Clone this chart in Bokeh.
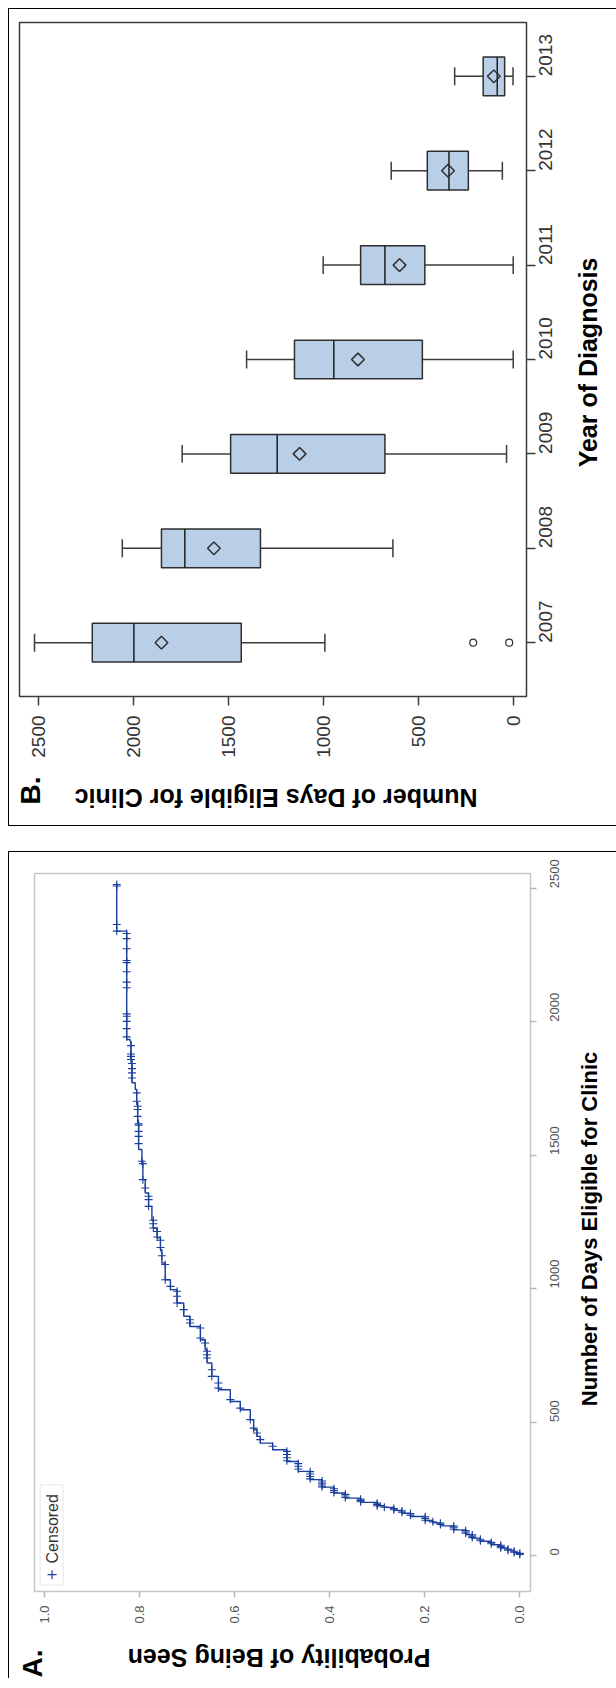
import math
import numpy as np
from bokeh.plotting import figure
from bokeh.layouts import column, row
from bokeh.models import Range1d, FixedTicker, NumeralTickFormatter, Label, BoxAnnotation
from bokeh.core.properties import value
from bokeh.embed import file_html
from bokeh.resources import INLINE

FONT = "Liberation Sans"
BLUE = "#1a3f9c"

# ---------------- Panel A: Kaplan-Meier style cumulative curve ----------------
km_days = [0, 10, 20, 28, 40, 53, 65, 78, 96, 111, 122, 131, 146, 158, 169, 180, 186, 199, 215, 234,
           256, 284, 315, 352, 396, 421, 446, 471, 509, 546, 577, 621, 671, 721, 771, 808, 858, 896, 946, 996,
           1033, 1096, 1146, 1190, 1227, 1258, 1308, 1358, 1408, 1471, 1521, 1621, 1696, 1746, 1771, 1858,
           1927, 1933, 2339]
km_prob = [0, .012, .025, .040, .060, .083, .100, .114, .139, .167, .183, .199, .230, .248, .265, .285, .300,
           .335, .367, .391, .416, .441, .466, .490, .520, .546, .553, .560, .567, .588, .609, .634, .648, .658,
           .662, .672, .694, .707, .721, .735, .746, .753, .756, .763, .771, .774, .781, .788, .793, .795, .802,
           .804, .806, .809, .816, .818, .820, .827, .848]
censor_days = [4, 8, 12, 16, 20, 24, 29, 33, 38, 44, 49, 55, 61, 67, 72, 77, 83, 88, 93, 98, 104, 110, 116,
               121, 126, 132, 139, 145, 151, 157, 162, 167, 171, 176, 181, 186, 191, 196, 201, 206, 211, 217,
               223, 229, 236, 243, 250, 257, 264, 271, 279, 287, 296, 305, 314, 324, 334, 344, 355, 366, 378,
               390, 409, 434, 459, 477, 509, 552, 584, 627, 646, 671, 696, 740, 752, 765, 796, 815, 852, 871,
               883, 921, 946, 971, 990, 1008, 1033, 1090, 1123, 1154, 1181, 1193, 1214, 1227, 1243, 1256, 1308,
               1333, 1346, 1377, 1408, 1468, 1477, 1543, 1570, 1589, 1612, 1617, 1645, 1671, 1683, 1702, 1733,
               1789, 1808, 1824, 1843, 1858, 1870, 1879, 1910, 1943, 1974, 2001, 2020, 2029, 2127, 2148, 2187,
               2221, 2229, 2273, 2311, 2330, 2339, 2364, 2508, 2514]
prob_ticks = [0.0, 0.2, 0.4, 0.6, 0.8, 1.0]
day_ticks = [0, 500, 1000, 1500, 2000, 2500]

# ---------------- Panel B: box plots by year ----------------
years = [2007, 2008, 2009, 2010, 2011, 2012, 2013]
b_min = [993, 635, 37, 2, 2, 59, 3]
b_q1 = [1433, 1332, 677, 480, 467, 238, 47]
b_med = [1998, 1730, 1244, 946, 677, 340, 86]
b_q3 = [2217, 1853, 1489, 1153, 805, 454, 160]
b_max = [2521, 2059, 1744, 1405, 1002, 644, 310]
b_mean = [1853, 1577, 1126, 819, 600, 345, 104]
out_year = [2007, 2007]
out_days = [212, 23]

W = 607  # inner width of each boxed panel (box runs to the right edge)


def style_axis(ax, ticks, fmt, size, color, tick_color, tick_out, standoff):
    ax.ticker = FixedTicker(ticks=ticks)
    ax.formatter = NumeralTickFormatter(format=fmt)
    ax.major_label_orientation = math.pi / 2
    ax.major_label_text_font = FONT
    ax.major_label_text_font_size = size
    ax.major_label_text_color = color
    ax.major_tick_out = tick_out
    ax.major_tick_in = 0
    ax.minor_tick_out = 0
    ax.minor_tick_in = 0
    ax.axis_line_color = None
    ax.major_tick_line_color = tick_color
    ax.major_tick_line_width = 1.5
    ax.major_label_standoff = standoff


def strip(width, height):
    s = figure(width=width, height=height, x_range=Range1d(0, width), y_range=Range1d(0, height),
               x_axis_location=None, y_axis_location=None, output_backend="svg", toolbar_location=None,
               min_border=0, outline_line_color=None)
    s.grid.visible = False
    s.background_fill_color = "white"
    s.border_fill_color = "white"
    return s


def title_text(s, x, y, text, angle, size, align="left"):
    s.text(x=[x], y=[y], text=[text], angle=angle, text_font=value(FONT), text_font_style="bold",
           text_font_size=size, text_align=align, text_baseline="middle", text_color="#000000")


# ======================= Panel B =======================
PWB = 561
HB = 753
pB = figure(width=PWB, height=HB, x_range=Range1d(2600, -68), y_range=Range1d(2006.43, 2013.57),
            x_axis_location="below", y_axis_location="right", output_backend="svg", toolbar_location=None,
            min_border_left=10, min_border_right=44, min_border_top=13, min_border_bottom=66)
pB.grid.visible = False
pB.outline_line_color = "#3c3c3c"
pB.outline_line_width = 1.5
pB.background_fill_color = "white"
pB.border_fill_color = "white"

bw = 0.41
cap = 0.095
yr = np.array(years, dtype=float)
pB.segment(x0=b_q3, y0=yr, x1=b_max, y1=yr, line_color="#3c3c3c", line_width=1.5)
pB.segment(x0=b_q1, y0=yr, x1=b_min, y1=yr, line_color="#3c3c3c", line_width=1.5)
pB.segment(x0=b_max, y0=yr - cap, x1=b_max, y1=yr + cap, line_color="#3c3c3c", line_width=1.5)
pB.segment(x0=b_min, y0=yr - cap, x1=b_min, y1=yr + cap, line_color="#3c3c3c", line_width=1.5)
pB.hbar(y=yr, left=b_q1, right=b_q3, height=bw, fill_color="#b9cfe8", line_color="#2e2e2e", line_width=1.5)
pB.segment(x0=b_med, y0=yr - bw / 2, x1=b_med, y1=yr + bw / 2, line_color="#1e1e1e", line_width=1.5)
pB.scatter(x=b_mean, y=yr, marker="square", angle=math.pi / 4, size=9, fill_color=None,
           line_color="#2e2e2e", line_width=1.5)
pB.scatter(x=out_days, y=out_year, marker="circle", size=7, fill_color=None, line_color="#2e2e2e",
           line_width=1.2)

style_axis(pB.xaxis[0], day_ticks, "0", "19px", "#333333", "#3c3c3c", 9, 10)
style_axis(pB.yaxis[0], years, "0", "19px", "#333333", "#3c3c3c", 9, 10)

rB = strip(W - PWB, HB)
title_text(rB, 17, 256, "Year of Diagnosis", math.pi / 2, "25px")

sB = strip(W, 63)
title_text(sB, 468, 28, "Number of Days Eligible for Clinic", math.pi, "25px")
title_text(sB, 21, 35, "B.", math.pi / 2, "28px", align="center")

# ======================= Panel A =======================
PWA = 563
HA = 779
pA = figure(width=PWA, height=HA, x_range=Range1d(1.021, -0.0225), y_range=Range1d(-135, 2555),
            x_axis_location="below", y_axis_location="right", output_backend="svg", toolbar_location=None,
            min_border_left=25, min_border_right=42, min_border_top=21, min_border_bottom=40)
pA.grid.visible = False
pA.outline_line_color = "#c3c7cb"
pA.outline_line_width = 1.5
pA.background_fill_color = "white"
pA.border_fill_color = "white"

# staircase path: days on the vertical axis
sx, sy = [km_prob[0]], [km_days[0]]
for i in range(1, len(km_days)):
    sx += [km_prob[i - 1], km_prob[i]]
    sy += [km_days[i], km_days[i]]
sx.append(km_prob[-1])
sy.append(max(censor_days))
pA.line(x=sx, y=sy, line_color=BLUE, line_width=1.4)

idx = np.searchsorted(np.array(km_days), np.array(censor_days), side="right") - 1
c_prob = np.array(km_prob)[idx]
pA.scatter(x=c_prob, y=censor_days, marker="cross", size=8, line_color=BLUE, line_width=1.1)

# legend
pA.add_layout(BoxAnnotation(left=1.009, right=0.961, bottom=-112, top=265, fill_color="white",
                            fill_alpha=1.0, line_color="#c3c7cb", line_width=1.5, level="underlay"))
pA.scatter(x=[0.984], y=[-72], marker="cross", size=9, line_color=BLUE, line_width=1.2)
pA.add_layout(Label(x=0.983, y=100, text="Censored", angle=math.pi / 2, text_font=FONT,
                    text_font_size="16px", text_color="#333333", text_align="center",
                    text_baseline="middle"))

style_axis(pA.xaxis[0], prob_ticks, "0.0", "13px", "#555555", "#b5b9bd", 6, 8)
style_axis(pA.yaxis[0], day_ticks, "0", "13px", "#555555", "#b5b9bd", 6, 18)

rA = strip(W - PWA, HA)
title_text(rA, 17, 201, "Number of Days Eligible for Clinic", math.pi / 2, "22px")

sA = strip(W, 47)
title_text(sA, 421, 21, "Probability of Being Seen", math.pi, "25px")
title_text(sA, 23, 15, "A.", math.pi / 2, "28px", align="center")

boxB = column(row(pB, rB, spacing=0), sB, spacing=0,
              styles={"border-top": "1px solid #000", "border-left": "1px solid #000",
                      "border-bottom": "1px solid #000"})
boxA = column(row(pA, rA, spacing=0), sA, spacing=0,
              styles={"border-top": "1px solid #000", "border-left": "1px solid #000"})
layout = column(boxB, boxA, spacing=25, margin=(8, 0, 0, 8))
open("out.html", "w").write(file_html(layout, INLINE))
